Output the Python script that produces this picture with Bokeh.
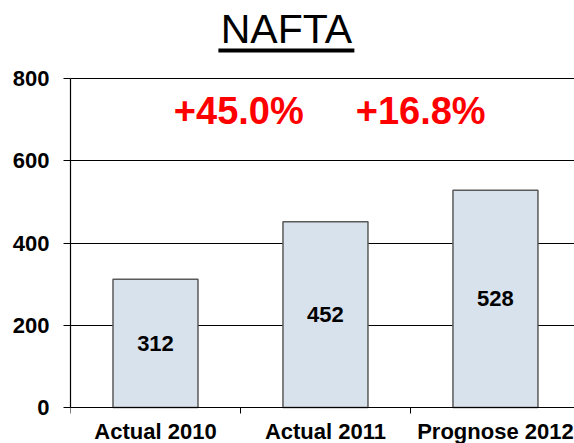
from bokeh.plotting import figure
from bokeh.models import Range1d, FixedTicker, ColumnDataSource
from bokeh.core.properties import value
from bokeh.embed import file_html
from bokeh.resources import INLINE

# ---- data ----
categories = ["Actual 2010", "Actual 2011", "Prognose 2012"]
values = [312, 452, 528]
growth_labels = ["+45.0%", "+16.8%"]
y_ticks = [0, 200, 400, 600, 800]
title_text = "NAFTA"

FONT = "Liberation Sans"

p = figure(width=574, height=443, output_backend="svg", toolbar_location=None,
           x_range=Range1d(0, 2.965), y_range=Range1d(-87.5, 989.7),
           min_border_left=70, min_border_right=0, min_border_top=0,
           min_border_bottom=0)
p.outline_line_color = None
p.background_fill_color = "white"
p.border_fill_color = "white"

xc = [i + 0.5 for i in range(len(categories))]
src = ColumnDataSource(dict(x=xc, top=values, mid=[v / 2 for v in values],
                            lab=[str(v) for v in values]))

p.vbar(x="x", top="top", bottom=0, width=0.5, source=src,
       fill_color="#D8E2EC", line_color="#5a5a5a", line_width=1.5)

p.text(x="x", y="mid", text="lab", source=src, text_align="center",
       text_baseline="middle", text_font=value(FONT), text_font_style="bold",
       text_font_size="22px", text_color="black")

# growth percentages between bars
gx = [0.99, 2.06]
p.text(x=gx, y=[720, 720], text=growth_labels, text_align="center",
       text_baseline="alphabetic", text_font=value(FONT), text_font_style="bold",
       text_font_size="38px", text_color="#FF0000")

# title with underline
tx = 1.27
p.text(x=[tx], y=[921], text=[title_text], text_align="center",
       text_baseline="alphabetic", text_font=value(FONT),
       text_font_size="41px", text_color="black")
half_w = 0.40
p.segment(x0=[tx - half_w], x1=[tx + half_w], y0=[868], y1=[868],
          line_color="black", line_width=4)

# y axis
p.yaxis.ticker = FixedTicker(ticks=y_ticks)
p.yaxis.bounds = (0, 800)
p.yaxis.axis_line_color = "black"
p.yaxis.axis_line_width = 1.2
p.yaxis.major_tick_line_color = "black"
p.yaxis.major_tick_out = 7
p.yaxis.major_tick_in = 0
p.yaxis.minor_tick_line_color = None
p.yaxis.major_label_standoff = 14
p.yaxis.major_label_text_font = FONT
p.yaxis.major_label_text_font_style = "bold"
p.yaxis.major_label_text_font_size = "22px"
p.yaxis.major_label_text_color = "black"

# x axis (fixed at y = 0)
p.xaxis.fixed_location = 0
p.xaxis.ticker = FixedTicker(ticks=xc, minor_ticks=[0, 1, 2, 3])
p.xaxis.major_label_overrides = {x: c for x, c in zip(xc, categories)}
p.xaxis.major_tick_line_color = None
p.xaxis.minor_tick_line_color = "black"
p.xaxis.minor_tick_out = 6
p.xaxis.minor_tick_in = 0
p.xaxis.axis_line_color = "black"
p.xaxis.axis_line_width = 1.2
p.xaxis.major_label_standoff = 5
p.xaxis.major_label_text_font = FONT
p.xaxis.major_label_text_font_style = "bold"
p.xaxis.major_label_text_font_size = "22px"
p.xaxis.major_label_text_color = "black"

p.xgrid.grid_line_color = None
p.ygrid.ticker = FixedTicker(ticks=y_ticks)
p.ygrid.grid_line_color = "black"
p.ygrid.grid_line_width = 1

open("out.html", "w").write(file_html(p, INLINE))
